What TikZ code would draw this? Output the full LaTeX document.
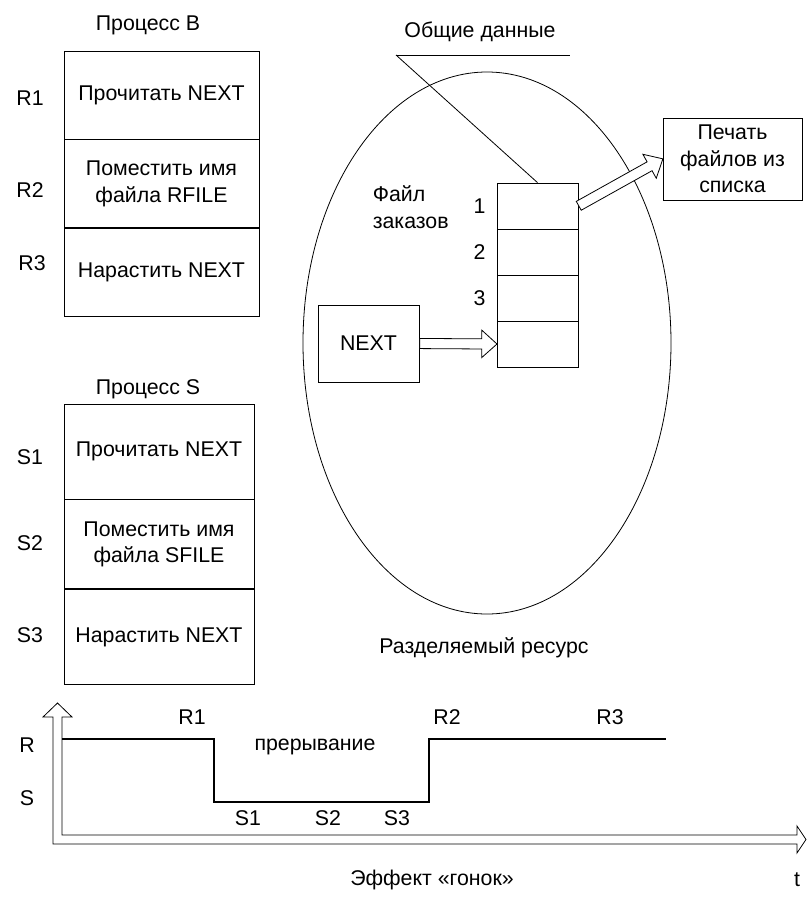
\documentclass[tikz,border=0pt]{standalone}
\usepackage{fontspec}
\setmainfont{Liberation Sans}
\usetikzlibrary{shapes.geometric, shapes.arrows, positioning, calc}

% block arrow between two anchors
\newcommand{\hollowarrow}[3]{%
    \path let \p1=($(#2)-(#1)$), \n1={atan2(\y1,\x1)}, \n2={veclen(\x1,\y1)} in
        node[hollow, rotate=\n1, minimum height=\n2, anchor=tail] (#3) at (#1) {};
}

\begin{document}
\begin{tikzpicture}[x=0.75pt, y=-0.75pt, line width=0.6pt,
    every node/.style={font=\fontsize{16}{20}\selectfont},
    stepcell/.style={rectangle, draw, align=center, inner sep=2pt},
    bcell/.style={stepcell, minimum width=146.25pt, minimum height=66pt},
    scell/.style={stepcell, minimum width=142.5pt},
    slot/.style={rectangle, draw, minimum width=60.75pt, minimum height=34.5pt},
    hollow/.style={single arrow, draw, fill=white, inner xsep=0pt, inner ysep=3.5pt,
        single arrow head extend=6.5pt, single arrow tip angle=84},
    signal/.style={line width=1.5pt},
]
    \useasboundingbox (0,0) rectangle (807,901);

    % Shared resource
    \node[ellipse, draw, minimum width=276pt, minimum height=406.5pt, inner sep=0pt] (res) at (487,343) {};
    \node (resname) at (484,648) {Разделяемый ресурс};

    % Process B
    \node (procB) at (148,25) {Процесс В};
    \node[bcell] (b1) at (161.5,95) {Прочитать NEXT};
    \node[bcell, below=0pt of b1] (b2) {Поместить имя\\файла RFILE};
    \node[bcell, below=0pt of b2] (b3) {Нарастить NEXT};
    \node (r1) at (30,98) {R1};
    \node (r2) at (30,190) {R2};
    \node (r3) at (32,263) {R3};

    % Process S
    \node (procS) at (148,389) {Процесс S};
    \node[scell, minimum height=71.25pt] (s1) at (159,451.5) {Прочитать NEXT};
    \node[scell, minimum height=66.75pt, below=0pt of s1] (s2) {Поместить имя\\файла SFILE};
    \node[scell, minimum height=71.25pt, below=0pt of s2] (s3) {Нарастить NEXT};
    \node (sl1) at (30,457) {S1};
    \node (sl2) at (30,543) {S2};
    \node (sl3) at (30,635) {S3};

    % Order file
    \foreach \i in {1,...,4} {
        \node[slot] (c\i) at (537.5, 160+46*\i) {};
    }
    \foreach \i in {1,2,3} {
        \node (n\i) at ($(c\i.west)+(-17,0)$) {\i};
    }
    \node[align=left, anchor=west] (orders) at (368,207) {Файл\\заказов};
    \node[stepcell, minimum width=75.75pt, minimum height=57.75pt] (next) at (368.5,343.5) {NEXT};
    \hollowarrow{next.east}{c4.west}{narr}

    % Shared data label
    \node (shared) at (480,32) {Общие данные};
    \coordinate (ulA) at (396,55);
    \coordinate (ulB) at (570,55);
    \draw (ulA) -- (ulB);
    \draw (ulA) -- (c1.north);

    % Printer
    \node[stepcell, minimum width=104.25pt, minimum height=61.5pt] (print) at (732.5,159) {Печать\\файлов из\\списка};
    \hollowarrow{c1.east}{print.west}{parr}

    % Timing diagram
    \draw (53,844) -- (797,844) -- (797,853) -- (806,839.5) -- (797,826) -- (797,835)
        -- (62,835) -- (62,717) -- (72,717) -- (57.5,703) -- (43,717) -- (53,717) -- cycle;
    \draw[signal] (62,739) -- (214,739) -- (214,802) -- (429,802) -- (429,739) -- (666,739);
    \node (ra) at (27,745) {R};
    \node (sa) at (27,798) {S};
    \node (t1) at (192,717) {R1};
    \node (t2) at (447,717) {R2};
    \node (t3) at (610,717) {R3};
    \node (irq) at (315,747) {прерывание};
    \node (u1) at (248,818) {S1};
    \node (u2) at (328,818) {S2};
    \node (u3) at (397,818) {S3};
    \node (race) at (432,880) {Эффект «гонок»};
    \node (tlab) at (797,880) {t};
\end{tikzpicture}
\end{document}
